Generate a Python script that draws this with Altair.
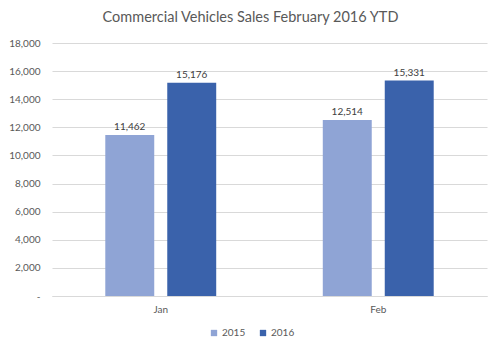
import altair as alt
import pandas as pd

months = ["Jan", "Feb"]
years = ["2015", "2016"]
sales_2015 = [11462, 12514]
sales_2016 = [15176, 15331]

rows = []
for i, m in enumerate(months):
    rows.append({"month": m, "year": "2015", "sales": sales_2015[i]})
    rows.append({"month": m, "year": "2016", "sales": sales_2016[i]})
df = pd.DataFrame(rows)

FONT = "Lato"
GREY = "#595959"

base = alt.Chart(df).encode(
    x=alt.X("month:N", sort=months, title=None,
            scale=alt.Scale(paddingInner=0.49, paddingOuter=0.245),
            axis=alt.Axis(labelAngle=0, labelFont=FONT, labelFontSize=10, labelColor=GREY,
                          ticks=False, domain=True, domainColor="#d9d9d9", labelPadding=8,
                          grid=False)),
    xOffset=alt.XOffset("year:N", sort=years,
                        scale=alt.Scale(paddingInner=0.21, paddingOuter=0)),
    y=alt.Y("sales:Q", title=None,
            scale=alt.Scale(domain=[0, 18000], nice=False),
            axis=alt.Axis(values=list(range(0, 18001, 2000)),
                          labelExpr="datum.value == 0 ? '-' : format(datum.value, ',')",
                          labelFont=FONT, labelFontSize=10, labelColor=GREY,
                          labelOverlap=False, labelFlush=False,
                          ticks=False, domain=False, gridColor="#d9d9d9", labelPadding=12)),
)

bars = base.mark_bar().encode(
    color=alt.Color("year:N", sort=years,
                    scale=alt.Scale(domain=years, range=["#8FA4D5", "#3A62AB"]),
                    legend=alt.Legend(title=None, orient="none", direction="horizontal",
                                      legendX=157, legendY=285, symbolType="square",
                                      symbolSize=40, labelFont=FONT, labelFontSize=10,
                                      labelOffset=3, labelColor=GREY, columnPadding=12,
                                      symbolStrokeWidth=0)),
)

labels = base.mark_text(dy=-8, font=FONT, fontSize=10, color="#404040").encode(
    text=alt.Text("sales:Q", format=","),
)

chart = (bars + labels).properties(
    width=435, height=253,
    title=alt.TitleParams("Commercial Vehicles Sales February 2016 YTD", font=FONT,
                          fontSize=14.5, fontWeight="normal", color=GREY, offset=13, dx=-19),
    autosize=alt.AutoSizeParams(type="none"),
    padding={"left": 52, "top": 43, "right": 13, "bottom": 54},
).configure(background="white").configure_view(stroke="transparent", strokeWidth=0)

chart.save("out.html", embed_options={"renderer": "svg", "actions": False})
